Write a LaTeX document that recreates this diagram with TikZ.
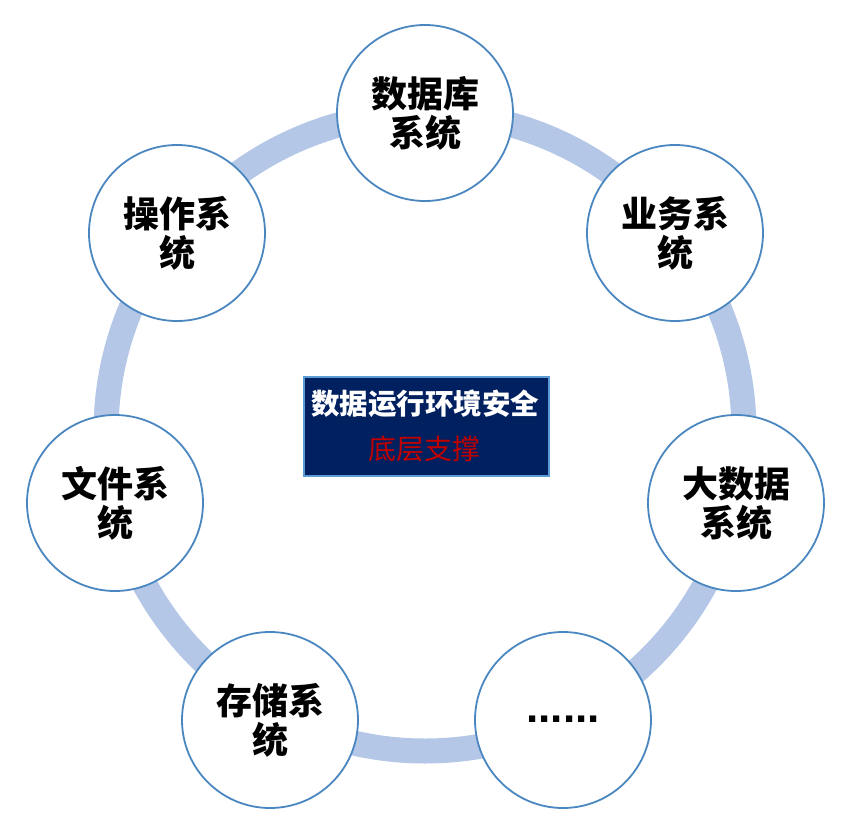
\documentclass[tikz,border=0pt]{standalone}
\usepackage{fontspec}
\newfontfamily\cjk{Noto Sans CJK SC}
\newfontfamily\dotsfont{Liberation Sans}
\definecolor{ringblue}{RGB}{180,199,231}
\definecolor{circblue}{RGB}{74,134,192}
\definecolor{navy}{RGB}{0,32,96}
\definecolor{boxedge}{RGB}{91,155,213}
\definecolor{redtxt}{RGB}{192,0,0}
\begin{document}
\begin{tikzpicture}[x=1pt,y=-1pt,
  sysnode/.style={circle, draw=circblue, line width=1.8pt, fill=white, minimum size=176pt, inner sep=0pt, align=center, font=\cjk\fontsize{36}{39}\selectfont\bfseries},
  centerbox/.style={draw=boxedge, line width=2pt, fill=navy, minimum width=245pt, minimum height=99pt, inner sep=0pt, align=center}]
\useasboundingbox (0,0) rectangle (846,832);
\coordinate (c) at (425,432);
\draw[ringblue, line width=25pt] (c) circle (319pt);
\node[sysnode] (db) at (425,113) {数据库\\系统};
\node[sysnode] (biz) at (675,233) {业务系\\统};
\node[sysnode] (big) at (736,503) {大数据\\系统};
\node[sysnode] (more) at (563,720) {};
\node[font=\dotsfont\bfseries\fontsize{44}{44}\selectfont] (dots) at (563,719) {......};
\node[sysnode] (store) at (270,720) {存储系\\统};
\node[sysnode] (file) at (115,503) {文件系\\统};
\node[sysnode] (os) at (177,233) {操作系\\统};
\node[centerbox] (box) at (426,426) {};
\node[font=\cjk\fontsize{28.5}{28.5}\selectfont\bfseries, text=white] (t1) at (425,404) {数据运行环境安全};
\node[font=\cjk\fontsize{28}{28}\selectfont, text=redtxt] (t2) at (424,449) {底层支撑};
\end{tikzpicture}
\end{document}
